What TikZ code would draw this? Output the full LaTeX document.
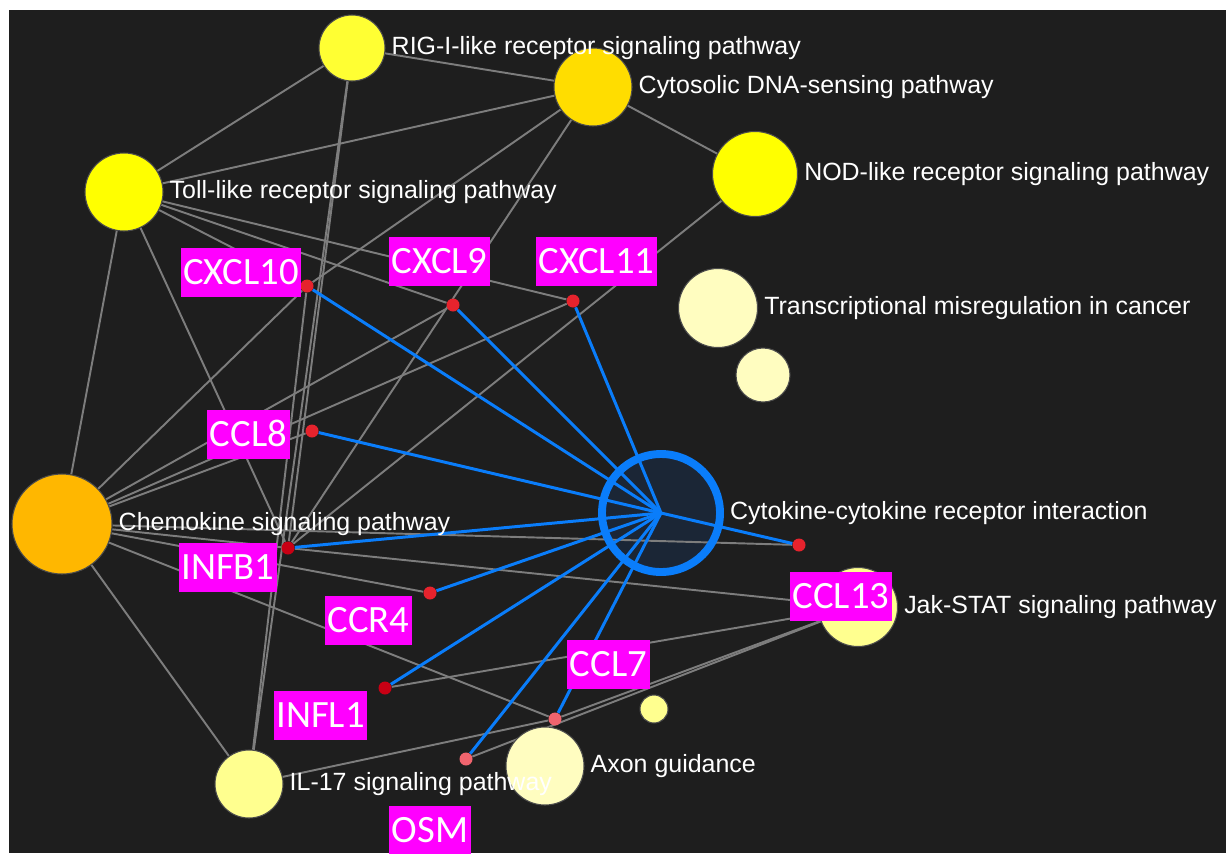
\documentclass[tikz,border=0pt]{standalone}
\usepackage{fontspec}
\setmainfont{Liberation Sans}
\newfontfamily\genefont{Carlito}
\usetikzlibrary{positioning}
\pgfdeclarelayer{back}
\pgfdeclarelayer{links}
\pgfsetlayers{back,links,main}

\definecolor{bgdark}{RGB}{30,30,30}
\definecolor{edgegrey}{RGB}{125,125,125}
\definecolor{hubblue}{RGB}{10,125,250}
\definecolor{hubfill}{RGB}{27,38,54}
\definecolor{rigyellow}{RGB}{255,255,51}
\definecolor{brightyellow}{RGB}{255,255,0}
\definecolor{cytogold}{RGB}{255,221,0}
\definecolor{chemoorange}{RGB}{255,183,0}
\definecolor{paleyellow}{RGB}{255,253,192}
\definecolor{softyellow}{RGB}{255,255,143}
\definecolor{boxmagenta}{RGB}{255,0,255}
\definecolor{dotred}{RGB}{230,35,45}
\definecolor{dotdark}{RGB}{200,0,20}
\definecolor{dotpink}{RGB}{240,100,110}

\begin{document}
\begin{tikzpicture}[
  pathway/.style={circle, draw=black!70, line width=0.6pt, inner sep=0pt, minimum size=#1},
  hubring/.style={circle, draw=hubblue, line width=4.5pt, inner sep=0pt, minimum size=2.36cm},
  plabel/.style={text=white, font=\fontsize{14.2}{16}\selectfont},
  gene/.style={circle, fill=#1, inner sep=0pt, minimum size=0.26cm},
  genebox/.style={fill=boxmagenta, text=white, font=\genefont\fontsize{22}{24}\selectfont,
    inner xsep=1.5pt, inner ysep=0pt, text height=14pt, text depth=0pt, minimum height=27.9pt},
  gline/.style={draw=edgegrey, line width=1.1pt},
  bline/.style={draw=hubblue, line width=1.7pt}
]
\useasboundingbox (0,0) rectangle (24.52,-17.06);

% pathways
\node[pathway=1.32cm, fill=rigyellow] (rig) at (7.04,-0.96) {};
\node[pathway=1.56cm, fill=cytogold] (cyto) at (11.86,-1.74) {};
\node[pathway=1.56cm, fill=brightyellow] (toll) at (2.48,-3.84) {};
\node[pathway=1.7cm, fill=brightyellow] (nod) at (15.1,-3.48) {};
\node[pathway=1.58cm, fill=paleyellow] (trans) at (14.36,-6.16) {};
\node[pathway=1.08cm, fill=paleyellow] (transsmall) at (15.26,-7.5) {};
\node[pathway=2.0cm, fill=chemoorange] (chemo) at (1.24,-10.48) {};
\node[pathway=1.58cm, fill=softyellow] (jak) at (17.16,-12.14) {};
\node[pathway=0.56cm, fill=softyellow] (jaksmall) at (13.08,-14.18) {};
\node[pathway=1.56cm, fill=paleyellow] (axon) at (10.9,-15.32) {};
\node[pathway=1.36cm, fill=softyellow] (il17) at (4.98,-15.68) {};
\node[hubring] (hub) at (13.22,-10.26) {};

\node[plabel, right=0pt of rig] (rigtxt) {RIG-I-like receptor signaling pathway};
\node[plabel, right=0pt of cyto] (cytotxt) {Cytosolic DNA-sensing pathway};
\node[plabel, right=0pt of toll] (tolltxt) {Toll-like receptor signaling pathway};
\node[plabel, right=0pt of nod] (nodtxt) {NOD-like receptor signaling pathway};
\node[plabel, right=0pt of trans] (transtxt) {Transcriptional misregulation in cancer};
\node[plabel, right=0pt of chemo] (chemotxt) {Chemokine signaling pathway};
\node[plabel, right=0pt of hub] (hubtxt) {Cytokine-cytokine receptor interaction};
\node[plabel, right=0pt of jak] (jaktxt) {Jak-STAT signaling pathway};
\node[plabel, right=0pt of axon] (axontxt) {Axon guidance};
\node[plabel, right=0pt of il17] (il17txt) {IL-17 signaling pathway};

% genes
\node[gene=dotred] (cxcl10) at (6.14,-5.72) {};
\node[gene=dotred] (cxcl9) at (9.06,-6.1) {};
\node[gene=dotred] (cxcl11) at (11.46,-6.02) {};
\node[gene=dotred] (ccl8) at (6.24,-8.62) {};
\node[gene=dotdark] (infb1) at (5.76,-10.96) {};
\node[gene=dotred] (ccr4) at (8.6,-11.86) {};
\node[gene=dotdark] (infl1) at (7.7,-13.76) {};
\node[gene=dotpink] (ccl7) at (11.1,-14.38) {};
\node[gene=dotpink] (osm) at (9.32,-15.18) {};
\node[gene=dotred] (ccl13) at (15.98,-10.9) {};

\node[genebox] (cxcl10txt) at (4.82,-5.45) {CXCL10};
\node[genebox] (cxcl9txt) at (8.79,-5.23) {CXCL9};
\node[genebox] (cxcl11txt) at (11.93,-5.23) {CXCL11};
\node[genebox] (ccl8txt) at (4.97,-8.69) {CCL8};
\node[genebox] (infb1txt) at (4.56,-11.35) {INFB1};
\node[genebox] (ccr4txt) at (7.37,-12.41) {CCR4};
\node[genebox] (infl1txt) at (6.41,-14.31) {INFL1};
\node[genebox] (ccl7txt) at (12.17,-13.29) {CCL7};
\node[genebox] (osmtxt) at (8.6,-16.6) {OSM};
\node[genebox] (ccl13txt) at (16.82,-11.93) {CCL13};

\begin{pgfonlayer}{back}
\fill[bgdark] (0.17,-0.2) rectangle (24.52,-17.06);
\fill[hubfill] (hub.center) circle (1.18cm);
\end{pgfonlayer}

% links
\begin{pgfonlayer}{links}
\draw[gline] (rig) edge (toll) edge (cyto) edge (il17) edge (infb1);
\draw[gline] (toll) edge (cyto) edge (chemo) edge (cxcl10) edge (cxcl9) edge (cxcl11) edge (infb1);
\draw[gline] (cyto) edge (nod) edge (cxcl10) edge (infb1);
\draw[gline] (nod) edge (infb1);
\draw[gline] (chemo) edge (il17) edge (cxcl10) edge (cxcl9) edge (cxcl11) edge (ccl8)
  edge (infb1) edge (ccr4) edge (ccl7) edge (ccl13);
\draw[gline] (jak) edge (infb1) edge (infl1) edge (osm) edge (ccl7);
\draw[gline] (il17) edge (ccl7) edge (cxcl10);
\draw[bline] (hub.center) edge (cxcl10) edge (cxcl9) edge (cxcl11) edge (ccl8) edge (infb1)
  edge (ccr4) edge (infl1) edge (ccl7) edge (osm) edge (ccl13);
\end{pgfonlayer}

\end{tikzpicture}
\end{document}
